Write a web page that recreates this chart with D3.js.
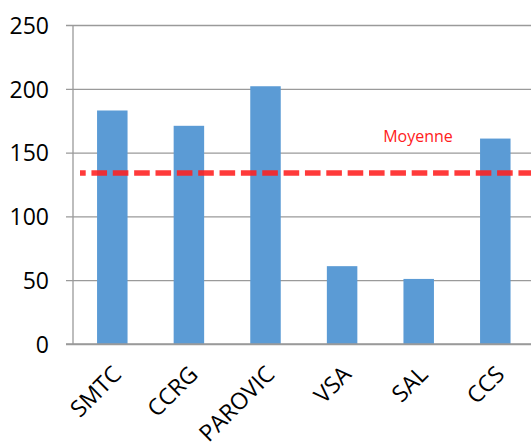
<!DOCTYPE html>
<html>
<head>
<meta charset="utf-8">
<script src="https://cdn.jsdelivr.net/npm/d3@7"></script>
<style>
  html, body { margin: 0; padding: 0; background: #fff; }
  svg { display: block; }
  text { font-family: "Open Sans", sans-serif; }
</style>
</head>
<body>
<svg id="chart" width="531" height="443"></svg>
<script>
// Structures by count, with the average drawn as a dashed reference line
const categories = ["SMTC", "CCRG", "PAROVIC", "VSA", "SAL", "CCS"];
const values = [183, 171, 202, 61, 51, 161];
const yTicks = [0, 50, 100, 150, 200, 250];
const averageValue = 134;
const averageLabel = "Moyenne";

const W = 531, H = 443;
const svg = d3.select("#chart");

const x = d3.scaleBand()
  .domain(categories)
  .range([74, 533.6])
  .paddingInner(0.602)
  .paddingOuter(0.301);

const y = d3.scaleLinear()
  .domain([0, 250])
  .range([344, 25]);

const gridColor = "#9a9a9a";

// horizontal gridlines with short left ticks
const yAxis = d3.axisLeft(y)
  .tickValues(yTicks)
  .tickSize(-(W - 66))
  .tickPadding(0)
  .tickFormat(d3.format("d"));

const gy = svg.append("g")
  .attr("transform", "translate(66,0)")
  .call(yAxis);
gy.select(".domain").remove();
gy.selectAll(".tick line")
  .attr("stroke", gridColor)
  .attr("stroke-width", 1.3);
gy.selectAll(".tick text")
  .attr("x", 49 - 66)
  .attr("dy", null)
  .attr("y", 8.2)
  .attr("text-anchor", "end")
  .attr("fill", "#000")
  .style("font-size", "23px");

// vertical axis line
svg.append("line")
  .attr("x1", 73).attr("x2", 73)
  .attr("y1", y(250)).attr("y2", y(0))
  .attr("stroke", gridColor)
  .attr("stroke-width", 1.3);

// bars
svg.append("g")
  .selectAll("rect")
  .data(values)
  .join("rect")
  .attr("x", (d, i) => x(categories[i]))
  .attr("width", x.bandwidth())
  .attr("y", d => y(d))
  .attr("height", d => y(0) - y(d))
  .attr("fill", "#5b9bd5");

// baseline drawn over the bar bottoms
svg.append("line")
  .attr("x1", 66).attr("x2", W)
  .attr("y1", y(0)).attr("y2", y(0))
  .attr("stroke", gridColor)
  .attr("stroke-width", 1.3);

// category labels, rotated
const xAxis = d3.axisBottom(x).tickSize(0).tickPadding(0);
const gx = svg.append("g")
  .attr("transform", `translate(0,${y(0)})`)
  .call(xAxis);
gx.select(".domain").remove();
gx.selectAll(".tick text")
  .attr("dy", null)
  .attr("y", null)
  .attr("text-anchor", "end")
  .attr("fill", "#000")
  .style("font-size", "23px")
  .attr("transform", "translate(10.5,31.8) rotate(-45)");

// average reference line
svg.append("line")
  .attr("x1", 80).attr("x2", W)
  .attr("y1", y(averageValue)).attr("y2", y(averageValue))
  .attr("stroke", "#ff1f1f")
  .attr("stroke-opacity", 0.88)
  .attr("stroke-width", 5.5)
  .attr("stroke-dasharray", "15.6,5.75")
  .attr("stroke-dashoffset", 9.9);

svg.append("text")
  .attr("x", 418)
  .attr("y", y(averageValue) - 31)
  .attr("text-anchor", "middle")
  .attr("fill", "#ff2020")
  .style("font-size", "16px")
  .text(averageLabel);
</script>
</body>
</html>
